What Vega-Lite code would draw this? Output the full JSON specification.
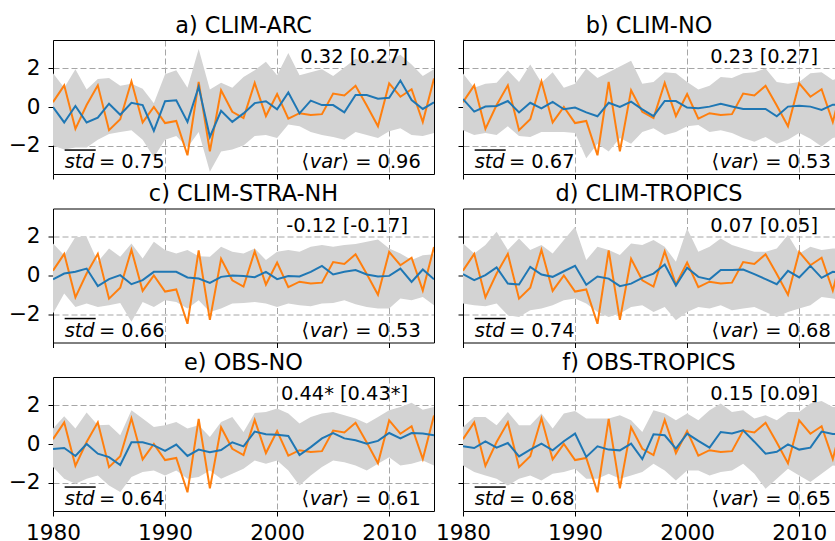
{
"$schema": "https://vega.github.io/schema/vega-lite/v6.json",
"background": "white",
"padding": {"left": 8, "top": 14, "right": 0, "bottom": -3},
"config": {
 "font": "DejaVu Sans",
 "view": {"stroke": null},
 "title": {"fontSize": 22.4, "fontWeight": "normal", "font": "DejaVu Sans", "color": "black", "baseline": "alphabetic", "offset": 3, "anchor": "middle"},
 "axis": {"domainColor": "black", "domainWidth": 1, "tickColor": "black", "tickWidth": 1, "tickSize": 5, "labelColor": "black", "labelFont": "DejaVu Sans", "labelFontSize": 21.6, "gridColor": "#a6a6a6", "gridDash": [6, 3], "gridWidth": 1, "labelFlush": false, "zindex": 1, "format": "d"}
},
"datasets": {
 "obs": [
  {"year":1980,"v":0.25},{"year":1981,"v":1.12},{"year":1982,"v":-1.13},{"year":1983,"v":0.1},{"year":1984,"v":1.12},
  {"year":1985,"v":-1.2},{"year":1986,"v":-0.63},{"year":1987,"v":1.33},{"year":1988,"v":-0.8},{"year":1989,"v":0.0},
  {"year":1990,"v":-0.83},{"year":1991,"v":-0.72},{"year":1992,"v":-2.5},{"year":1993,"v":1.3},{"year":1994,"v":-2.3},
  {"year":1995,"v":0.87},{"year":1996,"v":-0.25},{"year":1997,"v":-0.57},{"year":1998,"v":1.25},{"year":1999,"v":-0.47},
  {"year":2000,"v":0.67},{"year":2001,"v":-0.6},{"year":2002,"v":-0.32},{"year":2003,"v":-0.42},{"year":2004,"v":-0.37},
  {"year":2005,"v":0.7},{"year":2006,"v":0.6},{"year":2007,"v":1.1},{"year":2008,"v":0.08},{"year":2009,"v":-1.0},
  {"year":2010,"v":1.22},{"year":2011,"v":0.53},{"year":2012,"v":0.92},{"year":2013,"v":-0.78},{"year":2014,"v":1.47}
 ],
 "ann": [
  {"p":"a","r":"0.32 [0.27]","s":"= 0.75","v":"⟩ = 0.96"},
  {"p":"b","r":"0.23 [0.27]","s":"= 0.67","v":"⟩ = 0.53"},
  {"p":"c","r":"-0.12 [-0.17]","s":"= 0.66","v":"⟩ = 0.53"},
  {"p":"d","r":"0.07 [0.05]","s":"= 0.74","v":"⟩ = 0.68"},
  {"p":"e","r":"0.44* [0.43*]","s":"= 0.64","v":"⟩ = 0.61"},
  {"p":"f","r":"0.15 [0.09]","s":"= 0.68","v":"⟩ = 0.65"}
 ],
 "ens": [
  {"p":"a","year":1980,"m":0.0,"lo":-2.0,"hi":1.75},{"p":"a","year":1981,"m":-0.8,"lo":-2.2,"hi":1.0},{"p":"a","year":1982,"m":0.05,"lo":-2.1,"hi":1.95},{"p":"a","year":1983,"m":-0.8,"lo":-2.1,"hi":0.9},{"p":"a","year":1984,"m":-0.55,"lo":-1.7,"hi":1.45},
  {"p":"a","year":1985,"m":0.17,"lo":-1.4,"hi":1.5},{"p":"a","year":1986,"m":-0.4,"lo":-1.3,"hi":1.1},{"p":"a","year":1987,"m":0.22,"lo":-1.2,"hi":1.2},{"p":"a","year":1988,"m":0.1,"lo":-1.7,"hi":0.95},{"p":"a","year":1989,"m":-1.23,"lo":-2.6,"hi":0.2},
  {"p":"a","year":1990,"m":0.3,"lo":-1.7,"hi":1.7},{"p":"a","year":1991,"m":0.35,"lo":-1.5,"hi":1.9},{"p":"a","year":1992,"m":-0.77,"lo":-2.1,"hi":1.0},{"p":"a","year":1993,"m":1.05,"lo":-1.3,"hi":3.0},{"p":"a","year":1994,"m":-1.55,"lo":-3.35,"hi":0.9},
  {"p":"a","year":1995,"m":-0.2,"lo":-2.3,"hi":1.25},{"p":"a","year":1996,"m":-0.77,"lo":-2.2,"hi":1.0},{"p":"a","year":1997,"m":-0.33,"lo":-2.0,"hi":1.55},{"p":"a","year":1998,"m":0.2,"lo":-1.5,"hi":1.9},{"p":"a","year":1999,"m":0.3,"lo":-1.45,"hi":2.35},
  {"p":"a","year":2000,"m":-0.12,"lo":-1.6,"hi":1.65},{"p":"a","year":2001,"m":0.75,"lo":-0.9,"hi":2.8},{"p":"a","year":2002,"m":-0.33,"lo":-1.0,"hi":1.65},{"p":"a","year":2003,"m":0.33,"lo":-1.3,"hi":1.8},{"p":"a","year":2004,"m":0.1,"lo":-1.45,"hi":1.95},
  {"p":"a","year":2005,"m":0.1,"lo":-1.55,"hi":1.6},{"p":"a","year":2006,"m":-0.28,"lo":-1.7,"hi":2.05},{"p":"a","year":2007,"m":0.62,"lo":-1.3,"hi":2.5},{"p":"a","year":2008,"m":0.62,"lo":-1.45,"hi":2.3},{"p":"a","year":2009,"m":0.43,"lo":-1.6,"hi":2.5},
  {"p":"a","year":2010,"m":0.48,"lo":-1.25,"hi":2.4},{"p":"a","year":2011,"m":1.37,"lo":-1.1,"hi":2.7},{"p":"a","year":2012,"m":0.36,"lo":-1.45,"hi":2.2},{"p":"a","year":2013,"m":-0.1,"lo":-1.5,"hi":1.6},{"p":"a","year":2014,"m":0.24,"lo":-1.35,"hi":1.95},

  {"p":"b","year":1980,"m":0.41,"lo":-1.2,"hi":1.74},{"p":"b","year":1981,"m":-0.24,"lo":-1.45,"hi":1.0},{"p":"b","year":1982,"m":0.02,"lo":-1.35,"hi":1.2},{"p":"b","year":1983,"m":0.05,"lo":-1.45,"hi":1.25},{"p":"b","year":1984,"m":0.31,"lo":-1.0,"hi":1.9},
  {"p":"b","year":1985,"m":-0.28,"lo":-1.5,"hi":1.3},{"p":"b","year":1986,"m":0.22,"lo":-1.55,"hi":2.2},{"p":"b","year":1987,"m":-0.07,"lo":-1.3,"hi":1.25},{"p":"b","year":1988,"m":0.26,"lo":-1.3,"hi":1.8},{"p":"b","year":1989,"m":-0.12,"lo":-1.3,"hi":1.0},
  {"p":"b","year":1990,"m":-0.03,"lo":-1.35,"hi":1.2},{"p":"b","year":1991,"m":-0.28,"lo":-2.65,"hi":2.0},{"p":"b","year":1992,"m":-0.48,"lo":-1.9,"hi":1.5},{"p":"b","year":1993,"m":0.22,"lo":-2.3,"hi":1.8},{"p":"b","year":1994,"m":0.0,"lo":-1.6,"hi":2.1},
  {"p":"b","year":1995,"m":0.28,"lo":-1.9,"hi":2.4},{"p":"b","year":1996,"m":-0.12,"lo":-1.3,"hi":1.2},{"p":"b","year":1997,"m":-0.47,"lo":-1.1,"hi":1.3},{"p":"b","year":1998,"m":0.31,"lo":-1.45,"hi":1.8},{"p":"b","year":1999,"m":0.31,"lo":-1.3,"hi":1.75},
  {"p":"b","year":2000,"m":-0.03,"lo":-1.0,"hi":1.3},{"p":"b","year":2001,"m":-0.07,"lo":-0.93,"hi":0.9},{"p":"b","year":2002,"m":0.02,"lo":-1.3,"hi":1.1},{"p":"b","year":2003,"m":0.17,"lo":-1.2,"hi":1.55},{"p":"b","year":2004,"m":0.03,"lo":-1.35,"hi":1.5},
  {"p":"b","year":2005,"m":-0.1,"lo":-1.6,"hi":1.75},{"p":"b","year":2006,"m":-0.1,"lo":-1.8,"hi":1.8},{"p":"b","year":2007,"m":-0.1,"lo":-1.55,"hi":2.0},{"p":"b","year":2008,"m":-0.48,"lo":-1.9,"hi":1.3},{"p":"b","year":2009,"m":0.02,"lo":-1.7,"hi":1.2},
  {"p":"b","year":2010,"m":0.07,"lo":-1.35,"hi":1.3},{"p":"b","year":2011,"m":0.02,"lo":-1.65,"hi":1.75},{"p":"b","year":2012,"m":-0.15,"lo":-2.05,"hi":1.8},{"p":"b","year":2013,"m":0.12,"lo":-1.6,"hi":1.4},{"p":"b","year":2014,"m":0.1,"lo":-1.5,"hi":1.6},

  {"p":"c","year":1980,"m":-0.2,"lo":-1.97,"hi":1.66},{"p":"c","year":1981,"m":0.1,"lo":-0.93,"hi":1.05},{"p":"c","year":1982,"m":0.19,"lo":-1.63,"hi":2.0},{"p":"c","year":1983,"m":0.36,"lo":-1.45,"hi":2.0},{"p":"c","year":1984,"m":-0.55,"lo":-1.63,"hi":0.71},
  {"p":"c","year":1985,"m":-0.19,"lo":-1.54,"hi":1.4},{"p":"c","year":1986,"m":0.02,"lo":-1.42,"hi":0.97},{"p":"c","year":1987,"m":-0.45,"lo":-2.4,"hi":1.66},{"p":"c","year":1988,"m":-0.24,"lo":-1.37,"hi":0.88},{"p":"c","year":1989,"m":0.19,"lo":-1.63,"hi":1.75},
  {"p":"c","year":1990,"m":0.19,"lo":-1.28,"hi":1.32},{"p":"c","year":1991,"m":0.19,"lo":-1.37,"hi":1.14},{"p":"c","year":1992,"m":-0.1,"lo":-1.71,"hi":1.32},{"p":"c","year":1993,"m":-0.16,"lo":-1.28,"hi":1.0},{"p":"c","year":1994,"m":-0.38,"lo":-1.89,"hi":0.97},
  {"p":"c","year":1995,"m":-0.07,"lo":-1.71,"hi":1.49},{"p":"c","year":1996,"m":0.0,"lo":-1.45,"hi":1.23},{"p":"c","year":1997,"m":-0.03,"lo":-1.42,"hi":1.14},{"p":"c","year":1998,"m":-0.09,"lo":-1.37,"hi":1.4},{"p":"c","year":1999,"m":0.19,"lo":-1.45,"hi":0.8},
  {"p":"c","year":2000,"m":-0.19,"lo":-1.63,"hi":1.23},{"p":"c","year":2001,"m":-0.03,"lo":-1.45,"hi":1.32},{"p":"c","year":2002,"m":-0.05,"lo":-1.54,"hi":1.23},{"p":"c","year":2003,"m":0.19,"lo":-1.59,"hi":1.49},{"p":"c","year":2004,"m":0.5,"lo":-1.45,"hi":1.58},
  {"p":"c","year":2005,"m":0.05,"lo":-1.42,"hi":1.49},{"p":"c","year":2006,"m":0.19,"lo":-1.28,"hi":1.58},{"p":"c","year":2007,"m":0.28,"lo":-1.49,"hi":1.63},{"p":"c","year":2008,"m":0.05,"lo":-1.63,"hi":1.75},{"p":"c","year":2009,"m":-0.05,"lo":-1.71,"hi":1.87},
  {"p":"c","year":2010,"m":-0.02,"lo":-1.71,"hi":1.4},{"p":"c","year":2011,"m":0.36,"lo":-1.19,"hi":1.14},{"p":"c","year":2012,"m":-0.33,"lo":-1.28,"hi":0.8},{"p":"c","year":2013,"m":0.31,"lo":-1.11,"hi":1.05},{"p":"c","year":2014,"m":-0.2,"lo":-1.54,"hi":1.1},

  {"p":"d","year":1980,"m":0.07,"lo":-1.45,"hi":1.66},{"p":"d","year":1981,"m":-0.24,"lo":-1.54,"hi":1.14},{"p":"d","year":1982,"m":0.02,"lo":-1.59,"hi":1.58},{"p":"d","year":1983,"m":0.42,"lo":-1.45,"hi":2.27},{"p":"d","year":1984,"m":-0.42,"lo":-2.06,"hi":1.32},
  {"p":"d","year":1985,"m":-0.47,"lo":-2.15,"hi":1.92},{"p":"d","year":1986,"m":0.45,"lo":-1.8,"hi":1.32},{"p":"d","year":1987,"m":0.05,"lo":-1.71,"hi":1.58},{"p":"d","year":1988,"m":-0.07,"lo":-1.54,"hi":1.14},{"p":"d","year":1989,"m":0.22,"lo":-1.28,"hi":1.84},
  {"p":"d","year":1990,"m":0.5,"lo":-1.19,"hi":2.53},{"p":"d","year":1991,"m":-0.48,"lo":-1.45,"hi":0.8},{"p":"d","year":1992,"m":-0.05,"lo":-1.89,"hi":1.49},{"p":"d","year":1993,"m":-0.16,"lo":-2.15,"hi":1.32},{"p":"d","year":1994,"m":-0.55,"lo":-1.97,"hi":1.06},
  {"p":"d","year":1995,"m":-0.42,"lo":-1.63,"hi":1.66},{"p":"d","year":1996,"m":-0.12,"lo":-1.54,"hi":1.58},{"p":"d","year":1997,"m":0.1,"lo":-1.89,"hi":1.84},{"p":"d","year":1998,"m":0.57,"lo":-1.63,"hi":1.49},{"p":"d","year":1999,"m":-0.52,"lo":-2.32,"hi":0.71},
  {"p":"d","year":2000,"m":0.4,"lo":-1.89,"hi":2.44},{"p":"d","year":2001,"m":-0.07,"lo":-1.63,"hi":1.23},{"p":"d","year":2002,"m":-0.2,"lo":-1.71,"hi":1.49},{"p":"d","year":2003,"m":0.28,"lo":-1.54,"hi":1.92},{"p":"d","year":2004,"m":0.28,"lo":-1.8,"hi":1.58},
  {"p":"d","year":2005,"m":0.31,"lo":-1.71,"hi":1.4},{"p":"d","year":2006,"m":0.07,"lo":-1.63,"hi":1.23},{"p":"d","year":2007,"m":-0.19,"lo":-1.89,"hi":1.23},{"p":"d","year":2008,"m":-0.45,"lo":-2.15,"hi":1.4},{"p":"d","year":2009,"m":0.24,"lo":-1.89,"hi":2.1},
  {"p":"d","year":2010,"m":-0.1,"lo":-1.71,"hi":1.14},{"p":"d","year":2011,"m":0.5,"lo":-1.54,"hi":1.49},{"p":"d","year":2012,"m":-0.12,"lo":-1.11,"hi":1.32},{"p":"d","year":2013,"m":0.19,"lo":-1.19,"hi":1.4},{"p":"d","year":2014,"m":0.15,"lo":-1.3,"hi":1.4},

  {"p":"e","year":1980,"m":-0.26,"lo":-1.19,"hi":0.8},{"p":"e","year":1981,"m":-0.21,"lo":-1.8,"hi":1.44},{"p":"e","year":1982,"m":-0.62,"lo":-2.06,"hi":0.8},{"p":"e","year":1983,"m":0.0,"lo":-1.8,"hi":1.63},{"p":"e","year":1984,"m":-0.5,"lo":-1.63,"hi":0.97},
  {"p":"e","year":1985,"m":-0.68,"lo":-2.15,"hi":1.0},{"p":"e","year":1986,"m":-1.09,"lo":-2.49,"hi":0.45},{"p":"e","year":1987,"m":0.09,"lo":-1.71,"hi":1.75},{"p":"e","year":1988,"m":0.09,"lo":-1.45,"hi":1.32},{"p":"e","year":1989,"m":-0.07,"lo":-1.37,"hi":0.88},
  {"p":"e","year":1990,"m":-0.36,"lo":-1.63,"hi":0.97},{"p":"e","year":1991,"m":-0.03,"lo":-1.37,"hi":1.14},{"p":"e","year":1992,"m":-0.62,"lo":-1.8,"hi":0.8},{"p":"e","year":1993,"m":-0.29,"lo":-1.71,"hi":0.97},{"p":"e","year":1994,"m":-0.43,"lo":-1.37,"hi":0.36},
  {"p":"e","year":1995,"m":-0.31,"lo":-1.8,"hi":1.14},{"p":"e","year":1996,"m":0.09,"lo":-1.54,"hi":1.4},{"p":"e","year":1997,"m":-0.12,"lo":-1.28,"hi":0.62},{"p":"e","year":1998,"m":0.64,"lo":-0.85,"hi":1.61},{"p":"e","year":1999,"m":0.5,"lo":-1.02,"hi":1.66},
  {"p":"e","year":2000,"m":0.48,"lo":-0.85,"hi":1.84},{"p":"e","year":2001,"m":0.42,"lo":-1.37,"hi":1.58},{"p":"e","year":2002,"m":-0.57,"lo":-2.15,"hi":1.06},{"p":"e","year":2003,"m":-0.16,"lo":-1.63,"hi":1.4},{"p":"e","year":2004,"m":0.29,"lo":-1.19,"hi":1.58},
  {"p":"e","year":2005,"m":0.57,"lo":-0.85,"hi":1.66},{"p":"e","year":2006,"m":0.29,"lo":-0.94,"hi":1.49},{"p":"e","year":2007,"m":0.19,"lo":-1.11,"hi":1.32},{"p":"e","year":2008,"m":0.02,"lo":-1.37,"hi":1.06},{"p":"e","year":2009,"m":0.16,"lo":-1.02,"hi":1.4},
  {"p":"e","year":2010,"m":0.57,"lo":-0.68,"hi":1.75},{"p":"e","year":2011,"m":0.29,"lo":-1.11,"hi":1.92},{"p":"e","year":2012,"m":0.57,"lo":-1.02,"hi":2.13},{"p":"e","year":2013,"m":0.54,"lo":-0.85,"hi":1.78},{"p":"e","year":2014,"m":0.45,"lo":-1.11,"hi":1.92},

  {"p":"f","year":1980,"m":-0.12,"lo":-1.11,"hi":0.88},{"p":"f","year":1981,"m":-0.21,"lo":-1.45,"hi":1.4},{"p":"f","year":1982,"m":0.14,"lo":-1.63,"hi":1.4},{"p":"f","year":1983,"m":-0.19,"lo":-1.8,"hi":0.97},{"p":"f","year":1984,"m":0.05,"lo":-2.15,"hi":1.66},
  {"p":"f","year":1985,"m":-0.64,"lo":-1.8,"hi":0.97},{"p":"f","year":1986,"m":-0.29,"lo":-1.63,"hi":0.97},{"p":"f","year":1987,"m":0.02,"lo":-1.89,"hi":1.58},{"p":"f","year":1988,"m":-0.33,"lo":-1.54,"hi":0.8},{"p":"f","year":1989,"m":0.14,"lo":-1.45,"hi":1.58},
  {"p":"f","year":1990,"m":0.54,"lo":-1.28,"hi":1.71},{"p":"f","year":1991,"m":-0.67,"lo":-1.8,"hi":1.32},{"p":"f","year":1992,"m":-0.12,"lo":-1.8,"hi":1.32},{"p":"f","year":1993,"m":-0.29,"lo":-1.54,"hi":1.32},{"p":"f","year":1994,"m":-0.33,"lo":-1.8,"hi":1.49},
  {"p":"f","year":1995,"m":0.02,"lo":-1.63,"hi":1.23},{"p":"f","year":1996,"m":-0.78,"lo":-1.45,"hi":0.62},{"p":"f","year":1997,"m":0.5,"lo":-1.02,"hi":1.75},{"p":"f","year":1998,"m":0.45,"lo":-1.37,"hi":1.58},{"p":"f","year":1999,"m":-0.24,"lo":-1.89,"hi":1.23},
  {"p":"f","year":2000,"m":0.54,"lo":-1.37,"hi":1.58},{"p":"f","year":2001,"m":0.16,"lo":-1.37,"hi":1.23},{"p":"f","year":2002,"m":-0.19,"lo":-1.63,"hi":1.75},{"p":"f","year":2003,"m":0.62,"lo":-1.45,"hi":2.1},{"p":"f","year":2004,"m":0.54,"lo":-1.37,"hi":1.66},
  {"p":"f","year":2005,"m":0.71,"lo":-1.02,"hi":1.75},{"p":"f","year":2006,"m":0.12,"lo":-1.54,"hi":1.32},{"p":"f","year":2007,"m":-0.5,"lo":-2.32,"hi":1.49},{"p":"f","year":2008,"m":-0.4,"lo":-1.8,"hi":1.23},{"p":"f","year":2009,"m":-0.02,"lo":-1.28,"hi":1.66},
  {"p":"f","year":2010,"m":-0.29,"lo":-1.63,"hi":1.66},{"p":"f","year":2011,"m":-0.19,"lo":-1.97,"hi":2.1},{"p":"f","year":2012,"m":0.64,"lo":-1.54,"hi":2.23},{"p":"f","year":2013,"m":0.52,"lo":-1.11,"hi":1.92},{"p":"f","year":2014,"m":0.5,"lo":-1.2,"hi":1.9}
 ]
},
"columns": 2,
"bounds": "flush",
"spacing": {"row": 34.5, "column": 29},
"concat": [
 {"width": 381, "height": 134, "title": "a) CLIM-ARC",
  "layer": [
   {"data": {"name": "ens"}, "transform": [{"filter": "datum.p === 'a'"}], "mark": {"type": "area", "color": "#d3d3d3", "clip": true},
    "encoding": {"x": {"field": "year", "type": "quantitative", "scale": {"domain": [1980, 2014], "nice": false, "zero": false}, "axis": {"orient": "bottom", "values": [1980, 1990, 2000, 2010], "labels": false, "title": null}},
     "y": {"field": "lo", "type": "quantitative", "scale": {"domain": [-3.47, 3.47], "nice": false, "zero": false}, "axis": {"orient": "left", "values": [-2, 0, 2], "labelPadding": 8, "title": null}},
     "y2": {"field": "hi"}}},
   {"data": {"name": "obs"}, "mark": {"type": "line", "color": "#ff7f0e", "strokeWidth": 2, "clip": true},
    "encoding": {"x": {"field": "year", "type": "quantitative", "axis": {"orient": "top", "labels": false, "ticks": false, "grid": false, "title": null}}, "y": {"field": "v", "type": "quantitative", "axis": {"orient": "right", "labels": false, "ticks": false, "grid": false, "title": null}}}},
   {"data": {"name": "ens"}, "transform": [{"filter": "datum.p === 'a'"}], "mark": {"type": "line", "color": "#1f77b4", "strokeWidth": 2, "clip": true},
    "encoding": {"x": {"field": "year", "type": "quantitative", "axis": null}, "y": {"field": "m", "type": "quantitative", "axis": null}}},
   {"data": {"name": "ann"}, "transform": [{"filter": "datum.p === 'a'"}], "mark": {"type": "text", "align": "right", "baseline": "alphabetic", "fontSize": 19.4, "color": "black"},
    "encoding": {"x": {"datum": 2011.68, "axis": null}, "y": {"datum": 2.26, "axis": null}, "text": {"field": "r"}}},
   {"data": {"name": "ann"}, "transform": [{"filter": "datum.p === 'a'"}], "mark": {"type": "text", "align": "left", "baseline": "alphabetic", "fontSize": 19.4, "fontStyle": "italic", "color": "black"},
    "encoding": {"x": {"datum": 1981.04, "axis": null}, "y": {"datum": -3.18, "axis": null}, "text": {"value": "std"}}},
   {"data": {"name": "ann"}, "transform": [{"filter": "datum.p === 'a'"}], "mark": {"type": "rule", "color": "black", "strokeWidth": 1.5},
    "encoding": {"x": {"datum": 1981.04, "axis": null}, "x2": {"datum": 1983.81}, "y": {"datum": -2.23, "axis": null}}},
   {"data": {"name": "ann"}, "transform": [{"filter": "datum.p === 'a'"}], "mark": {"type": "text", "align": "left", "baseline": "alphabetic", "fontSize": 19.4, "color": "black"},
    "encoding": {"x": {"datum": 1984.1, "axis": null}, "y": {"datum": -3.18, "axis": null}, "text": {"field": "s"}}},
   {"data": {"name": "ann"}, "transform": [{"filter": "datum.p === 'a'"}], "mark": {"type": "text", "align": "left", "baseline": "alphabetic", "fontSize": 19.4, "color": "black"},
    "encoding": {"x": {"datum": 2002.17, "axis": null}, "y": {"datum": -3.18, "axis": null}, "text": {"value": "⟨"}}},
   {"data": {"name": "ann"}, "transform": [{"filter": "datum.p === 'a'"}], "mark": {"type": "text", "align": "left", "baseline": "alphabetic", "fontSize": 19.4, "fontStyle": "italic", "color": "black"},
    "encoding": {"x": {"datum": 2002.91, "axis": null}, "y": {"datum": -3.18, "axis": null}, "text": {"value": "var"}}},
   {"data": {"name": "ann"}, "transform": [{"filter": "datum.p === 'a'"}], "mark": {"type": "text", "align": "left", "baseline": "alphabetic", "fontSize": 19.4, "color": "black"},
    "encoding": {"x": {"datum": 2005.74, "axis": null}, "y": {"datum": -3.18, "axis": null}, "text": {"field": "v"}}}
  ],
  "resolve": {"axis": {"x": "independent", "y": "independent"}}},
 {"width": 372, "height": 134, "title": "b) CLIM-NO",
  "layer": [
   {"data": {"name": "ens"}, "transform": [{"filter": "datum.p === 'b'"}], "mark": {"type": "area", "color": "#d3d3d3", "clip": true},
    "encoding": {"x": {"field": "year", "type": "quantitative", "scale": {"domain": [1980, 2013.196], "nice": false, "zero": false}, "axis": {"orient": "bottom", "values": [1980, 1990, 2000, 2010], "labels": false, "title": null}},
     "y": {"field": "lo", "type": "quantitative", "scale": {"domain": [-3.47, 3.47], "nice": false, "zero": false}, "axis": {"orient": "left", "values": [-2, 0, 2], "labels": false, "title": null}},
     "y2": {"field": "hi"}}},
   {"data": {"name": "obs"}, "mark": {"type": "line", "color": "#ff7f0e", "strokeWidth": 2, "clip": true},
    "encoding": {"x": {"field": "year", "type": "quantitative", "axis": {"orient": "top", "labels": false, "ticks": false, "grid": false, "title": null}}, "y": {"field": "v", "type": "quantitative", "axis": null}}},
   {"data": {"name": "ens"}, "transform": [{"filter": "datum.p === 'b'"}], "mark": {"type": "line", "color": "#1f77b4", "strokeWidth": 2, "clip": true},
    "encoding": {"x": {"field": "year", "type": "quantitative", "axis": null}, "y": {"field": "m", "type": "quantitative", "axis": null}}},
   {"data": {"name": "ann"}, "transform": [{"filter": "datum.p === 'b'"}], "mark": {"type": "text", "align": "right", "baseline": "alphabetic", "fontSize": 19.4, "color": "black"},
    "encoding": {"x": {"datum": 2011.68, "axis": null}, "y": {"datum": 2.26, "axis": null}, "text": {"field": "r"}}},
   {"data": {"name": "ann"}, "transform": [{"filter": "datum.p === 'b'"}], "mark": {"type": "text", "align": "left", "baseline": "alphabetic", "fontSize": 19.4, "fontStyle": "italic", "color": "black"},
    "encoding": {"x": {"datum": 1981.04, "axis": null}, "y": {"datum": -3.18, "axis": null}, "text": {"value": "std"}}},
   {"data": {"name": "ann"}, "transform": [{"filter": "datum.p === 'b'"}], "mark": {"type": "rule", "color": "black", "strokeWidth": 1.5},
    "encoding": {"x": {"datum": 1981.04, "axis": null}, "x2": {"datum": 1983.81}, "y": {"datum": -2.23, "axis": null}}},
   {"data": {"name": "ann"}, "transform": [{"filter": "datum.p === 'b'"}], "mark": {"type": "text", "align": "left", "baseline": "alphabetic", "fontSize": 19.4, "color": "black"},
    "encoding": {"x": {"datum": 1984.1, "axis": null}, "y": {"datum": -3.18, "axis": null}, "text": {"field": "s"}}},
   {"data": {"name": "ann"}, "transform": [{"filter": "datum.p === 'b'"}], "mark": {"type": "text", "align": "left", "baseline": "alphabetic", "fontSize": 19.4, "color": "black"},
    "encoding": {"x": {"datum": 2002.17, "axis": null}, "y": {"datum": -3.18, "axis": null}, "text": {"value": "⟨"}}},
   {"data": {"name": "ann"}, "transform": [{"filter": "datum.p === 'b'"}], "mark": {"type": "text", "align": "left", "baseline": "alphabetic", "fontSize": 19.4, "fontStyle": "italic", "color": "black"},
    "encoding": {"x": {"datum": 2002.91, "axis": null}, "y": {"datum": -3.18, "axis": null}, "text": {"value": "var"}}},
   {"data": {"name": "ann"}, "transform": [{"filter": "datum.p === 'b'"}], "mark": {"type": "text", "align": "left", "baseline": "alphabetic", "fontSize": 19.4, "color": "black"},
    "encoding": {"x": {"datum": 2005.74, "axis": null}, "y": {"datum": -3.18, "axis": null}, "text": {"field": "v"}}}
  ],
  "resolve": {"axis": {"x": "independent", "y": "independent"}}},
 {"width": 381, "height": 134, "title": "c) CLIM-STRA-NH",
  "layer": [
   {"data": {"name": "ens"}, "transform": [{"filter": "datum.p === 'c'"}], "mark": {"type": "area", "color": "#d3d3d3", "clip": true},
    "encoding": {"x": {"field": "year", "type": "quantitative", "scale": {"domain": [1980, 2014], "nice": false, "zero": false}, "axis": {"orient": "bottom", "values": [1980, 1990, 2000, 2010], "labels": false, "title": null}},
     "y": {"field": "lo", "type": "quantitative", "scale": {"domain": [-3.47, 3.47], "nice": false, "zero": false}, "axis": {"orient": "left", "values": [-2, 0, 2], "labelPadding": 8, "title": null}},
     "y2": {"field": "hi"}}},
   {"data": {"name": "obs"}, "mark": {"type": "line", "color": "#ff7f0e", "strokeWidth": 2, "clip": true},
    "encoding": {"x": {"field": "year", "type": "quantitative", "axis": {"orient": "top", "labels": false, "ticks": false, "grid": false, "title": null}}, "y": {"field": "v", "type": "quantitative", "axis": {"orient": "right", "labels": false, "ticks": false, "grid": false, "title": null}}}},
   {"data": {"name": "ens"}, "transform": [{"filter": "datum.p === 'c'"}], "mark": {"type": "line", "color": "#1f77b4", "strokeWidth": 2, "clip": true},
    "encoding": {"x": {"field": "year", "type": "quantitative", "axis": null}, "y": {"field": "m", "type": "quantitative", "axis": null}}},
   {"data": {"name": "ann"}, "transform": [{"filter": "datum.p === 'c'"}], "mark": {"type": "text", "align": "right", "baseline": "alphabetic", "fontSize": 19.4, "color": "black"},
    "encoding": {"x": {"datum": 2011.68, "axis": null}, "y": {"datum": 2.26, "axis": null}, "text": {"field": "r"}}},
   {"data": {"name": "ann"}, "transform": [{"filter": "datum.p === 'c'"}], "mark": {"type": "text", "align": "left", "baseline": "alphabetic", "fontSize": 19.4, "fontStyle": "italic", "color": "black"},
    "encoding": {"x": {"datum": 1981.04, "axis": null}, "y": {"datum": -3.18, "axis": null}, "text": {"value": "std"}}},
   {"data": {"name": "ann"}, "transform": [{"filter": "datum.p === 'c'"}], "mark": {"type": "rule", "color": "black", "strokeWidth": 1.5},
    "encoding": {"x": {"datum": 1981.04, "axis": null}, "x2": {"datum": 1983.81}, "y": {"datum": -2.23, "axis": null}}},
   {"data": {"name": "ann"}, "transform": [{"filter": "datum.p === 'c'"}], "mark": {"type": "text", "align": "left", "baseline": "alphabetic", "fontSize": 19.4, "color": "black"},
    "encoding": {"x": {"datum": 1984.1, "axis": null}, "y": {"datum": -3.18, "axis": null}, "text": {"field": "s"}}},
   {"data": {"name": "ann"}, "transform": [{"filter": "datum.p === 'c'"}], "mark": {"type": "text", "align": "left", "baseline": "alphabetic", "fontSize": 19.4, "color": "black"},
    "encoding": {"x": {"datum": 2002.17, "axis": null}, "y": {"datum": -3.18, "axis": null}, "text": {"value": "⟨"}}},
   {"data": {"name": "ann"}, "transform": [{"filter": "datum.p === 'c'"}], "mark": {"type": "text", "align": "left", "baseline": "alphabetic", "fontSize": 19.4, "fontStyle": "italic", "color": "black"},
    "encoding": {"x": {"datum": 2002.91, "axis": null}, "y": {"datum": -3.18, "axis": null}, "text": {"value": "var"}}},
   {"data": {"name": "ann"}, "transform": [{"filter": "datum.p === 'c'"}], "mark": {"type": "text", "align": "left", "baseline": "alphabetic", "fontSize": 19.4, "color": "black"},
    "encoding": {"x": {"datum": 2005.74, "axis": null}, "y": {"datum": -3.18, "axis": null}, "text": {"field": "v"}}}
  ],
  "resolve": {"axis": {"x": "independent", "y": "independent"}}},
 {"width": 372, "height": 134, "title": "d) CLIM-TROPICS",
  "layer": [
   {"data": {"name": "ens"}, "transform": [{"filter": "datum.p === 'd'"}], "mark": {"type": "area", "color": "#d3d3d3", "clip": true},
    "encoding": {"x": {"field": "year", "type": "quantitative", "scale": {"domain": [1980, 2013.196], "nice": false, "zero": false}, "axis": {"orient": "bottom", "values": [1980, 1990, 2000, 2010], "labels": false, "title": null}},
     "y": {"field": "lo", "type": "quantitative", "scale": {"domain": [-3.47, 3.47], "nice": false, "zero": false}, "axis": {"orient": "left", "values": [-2, 0, 2], "labels": false, "title": null}},
     "y2": {"field": "hi"}}},
   {"data": {"name": "obs"}, "mark": {"type": "line", "color": "#ff7f0e", "strokeWidth": 2, "clip": true},
    "encoding": {"x": {"field": "year", "type": "quantitative", "axis": {"orient": "top", "labels": false, "ticks": false, "grid": false, "title": null}}, "y": {"field": "v", "type": "quantitative", "axis": null}}},
   {"data": {"name": "ens"}, "transform": [{"filter": "datum.p === 'd'"}], "mark": {"type": "line", "color": "#1f77b4", "strokeWidth": 2, "clip": true},
    "encoding": {"x": {"field": "year", "type": "quantitative", "axis": null}, "y": {"field": "m", "type": "quantitative", "axis": null}}},
   {"data": {"name": "ann"}, "transform": [{"filter": "datum.p === 'd'"}], "mark": {"type": "text", "align": "right", "baseline": "alphabetic", "fontSize": 19.4, "color": "black"},
    "encoding": {"x": {"datum": 2011.68, "axis": null}, "y": {"datum": 2.26, "axis": null}, "text": {"field": "r"}}},
   {"data": {"name": "ann"}, "transform": [{"filter": "datum.p === 'd'"}], "mark": {"type": "text", "align": "left", "baseline": "alphabetic", "fontSize": 19.4, "fontStyle": "italic", "color": "black"},
    "encoding": {"x": {"datum": 1981.04, "axis": null}, "y": {"datum": -3.18, "axis": null}, "text": {"value": "std"}}},
   {"data": {"name": "ann"}, "transform": [{"filter": "datum.p === 'd'"}], "mark": {"type": "rule", "color": "black", "strokeWidth": 1.5},
    "encoding": {"x": {"datum": 1981.04, "axis": null}, "x2": {"datum": 1983.81}, "y": {"datum": -2.23, "axis": null}}},
   {"data": {"name": "ann"}, "transform": [{"filter": "datum.p === 'd'"}], "mark": {"type": "text", "align": "left", "baseline": "alphabetic", "fontSize": 19.4, "color": "black"},
    "encoding": {"x": {"datum": 1984.1, "axis": null}, "y": {"datum": -3.18, "axis": null}, "text": {"field": "s"}}},
   {"data": {"name": "ann"}, "transform": [{"filter": "datum.p === 'd'"}], "mark": {"type": "text", "align": "left", "baseline": "alphabetic", "fontSize": 19.4, "color": "black"},
    "encoding": {"x": {"datum": 2002.17, "axis": null}, "y": {"datum": -3.18, "axis": null}, "text": {"value": "⟨"}}},
   {"data": {"name": "ann"}, "transform": [{"filter": "datum.p === 'd'"}], "mark": {"type": "text", "align": "left", "baseline": "alphabetic", "fontSize": 19.4, "fontStyle": "italic", "color": "black"},
    "encoding": {"x": {"datum": 2002.91, "axis": null}, "y": {"datum": -3.18, "axis": null}, "text": {"value": "var"}}},
   {"data": {"name": "ann"}, "transform": [{"filter": "datum.p === 'd'"}], "mark": {"type": "text", "align": "left", "baseline": "alphabetic", "fontSize": 19.4, "color": "black"},
    "encoding": {"x": {"datum": 2005.74, "axis": null}, "y": {"datum": -3.18, "axis": null}, "text": {"field": "v"}}}
  ],
  "resolve": {"axis": {"x": "independent", "y": "independent"}}},
 {"width": 381, "height": 134, "title": "e) OBS-NO",
  "layer": [
   {"data": {"name": "ens"}, "transform": [{"filter": "datum.p === 'e'"}], "mark": {"type": "area", "color": "#d3d3d3", "clip": true},
    "encoding": {"x": {"field": "year", "type": "quantitative", "scale": {"domain": [1980, 2014], "nice": false, "zero": false}, "axis": {"orient": "bottom", "values": [1980, 1990, 2000, 2010], "labels": true, "labelPadding": 6, "title": null}},
     "y": {"field": "lo", "type": "quantitative", "scale": {"domain": [-3.47, 3.47], "nice": false, "zero": false}, "axis": {"orient": "left", "values": [-2, 0, 2], "labelPadding": 8, "title": null}},
     "y2": {"field": "hi"}}},
   {"data": {"name": "obs"}, "mark": {"type": "line", "color": "#ff7f0e", "strokeWidth": 2, "clip": true},
    "encoding": {"x": {"field": "year", "type": "quantitative", "axis": {"orient": "top", "labels": false, "ticks": false, "grid": false, "title": null}}, "y": {"field": "v", "type": "quantitative", "axis": {"orient": "right", "labels": false, "ticks": false, "grid": false, "title": null}}}},
   {"data": {"name": "ens"}, "transform": [{"filter": "datum.p === 'e'"}], "mark": {"type": "line", "color": "#1f77b4", "strokeWidth": 2, "clip": true},
    "encoding": {"x": {"field": "year", "type": "quantitative", "axis": null}, "y": {"field": "m", "type": "quantitative", "axis": null}}},
   {"data": {"name": "ann"}, "transform": [{"filter": "datum.p === 'e'"}], "mark": {"type": "text", "align": "right", "baseline": "alphabetic", "fontSize": 19.4, "color": "black"},
    "encoding": {"x": {"datum": 2011.68, "axis": null}, "y": {"datum": 2.26, "axis": null}, "text": {"field": "r"}}},
   {"data": {"name": "ann"}, "transform": [{"filter": "datum.p === 'e'"}], "mark": {"type": "text", "align": "left", "baseline": "alphabetic", "fontSize": 19.4, "fontStyle": "italic", "color": "black"},
    "encoding": {"x": {"datum": 1981.04, "axis": null}, "y": {"datum": -3.18, "axis": null}, "text": {"value": "std"}}},
   {"data": {"name": "ann"}, "transform": [{"filter": "datum.p === 'e'"}], "mark": {"type": "rule", "color": "black", "strokeWidth": 1.5},
    "encoding": {"x": {"datum": 1981.04, "axis": null}, "x2": {"datum": 1983.81}, "y": {"datum": -2.23, "axis": null}}},
   {"data": {"name": "ann"}, "transform": [{"filter": "datum.p === 'e'"}], "mark": {"type": "text", "align": "left", "baseline": "alphabetic", "fontSize": 19.4, "color": "black"},
    "encoding": {"x": {"datum": 1984.1, "axis": null}, "y": {"datum": -3.18, "axis": null}, "text": {"field": "s"}}},
   {"data": {"name": "ann"}, "transform": [{"filter": "datum.p === 'e'"}], "mark": {"type": "text", "align": "left", "baseline": "alphabetic", "fontSize": 19.4, "color": "black"},
    "encoding": {"x": {"datum": 2002.17, "axis": null}, "y": {"datum": -3.18, "axis": null}, "text": {"value": "⟨"}}},
   {"data": {"name": "ann"}, "transform": [{"filter": "datum.p === 'e'"}], "mark": {"type": "text", "align": "left", "baseline": "alphabetic", "fontSize": 19.4, "fontStyle": "italic", "color": "black"},
    "encoding": {"x": {"datum": 2002.91, "axis": null}, "y": {"datum": -3.18, "axis": null}, "text": {"value": "var"}}},
   {"data": {"name": "ann"}, "transform": [{"filter": "datum.p === 'e'"}], "mark": {"type": "text", "align": "left", "baseline": "alphabetic", "fontSize": 19.4, "color": "black"},
    "encoding": {"x": {"datum": 2005.74, "axis": null}, "y": {"datum": -3.18, "axis": null}, "text": {"field": "v"}}}
  ],
  "resolve": {"axis": {"x": "independent", "y": "independent"}}},
 {"width": 372, "height": 134, "title": "f) OBS-TROPICS",
  "layer": [
   {"data": {"name": "ens"}, "transform": [{"filter": "datum.p === 'f'"}], "mark": {"type": "area", "color": "#d3d3d3", "clip": true},
    "encoding": {"x": {"field": "year", "type": "quantitative", "scale": {"domain": [1980, 2013.196], "nice": false, "zero": false}, "axis": {"orient": "bottom", "values": [1980, 1990, 2000, 2010], "labels": true, "labelPadding": 6, "title": null}},
     "y": {"field": "lo", "type": "quantitative", "scale": {"domain": [-3.47, 3.47], "nice": false, "zero": false}, "axis": {"orient": "left", "values": [-2, 0, 2], "labels": false, "title": null}},
     "y2": {"field": "hi"}}},
   {"data": {"name": "obs"}, "mark": {"type": "line", "color": "#ff7f0e", "strokeWidth": 2, "clip": true},
    "encoding": {"x": {"field": "year", "type": "quantitative", "axis": {"orient": "top", "labels": false, "ticks": false, "grid": false, "title": null}}, "y": {"field": "v", "type": "quantitative", "axis": null}}},
   {"data": {"name": "ens"}, "transform": [{"filter": "datum.p === 'f'"}], "mark": {"type": "line", "color": "#1f77b4", "strokeWidth": 2, "clip": true},
    "encoding": {"x": {"field": "year", "type": "quantitative", "axis": null}, "y": {"field": "m", "type": "quantitative", "axis": null}}},
   {"data": {"name": "ann"}, "transform": [{"filter": "datum.p === 'f'"}], "mark": {"type": "text", "align": "right", "baseline": "alphabetic", "fontSize": 19.4, "color": "black"},
    "encoding": {"x": {"datum": 2011.68, "axis": null}, "y": {"datum": 2.26, "axis": null}, "text": {"field": "r"}}},
   {"data": {"name": "ann"}, "transform": [{"filter": "datum.p === 'f'"}], "mark": {"type": "text", "align": "left", "baseline": "alphabetic", "fontSize": 19.4, "fontStyle": "italic", "color": "black"},
    "encoding": {"x": {"datum": 1981.04, "axis": null}, "y": {"datum": -3.18, "axis": null}, "text": {"value": "std"}}},
   {"data": {"name": "ann"}, "transform": [{"filter": "datum.p === 'f'"}], "mark": {"type": "rule", "color": "black", "strokeWidth": 1.5},
    "encoding": {"x": {"datum": 1981.04, "axis": null}, "x2": {"datum": 1983.81}, "y": {"datum": -2.23, "axis": null}}},
   {"data": {"name": "ann"}, "transform": [{"filter": "datum.p === 'f'"}], "mark": {"type": "text", "align": "left", "baseline": "alphabetic", "fontSize": 19.4, "color": "black"},
    "encoding": {"x": {"datum": 1984.1, "axis": null}, "y": {"datum": -3.18, "axis": null}, "text": {"field": "s"}}},
   {"data": {"name": "ann"}, "transform": [{"filter": "datum.p === 'f'"}], "mark": {"type": "text", "align": "left", "baseline": "alphabetic", "fontSize": 19.4, "color": "black"},
    "encoding": {"x": {"datum": 2002.17, "axis": null}, "y": {"datum": -3.18, "axis": null}, "text": {"value": "⟨"}}},
   {"data": {"name": "ann"}, "transform": [{"filter": "datum.p === 'f'"}], "mark": {"type": "text", "align": "left", "baseline": "alphabetic", "fontSize": 19.4, "fontStyle": "italic", "color": "black"},
    "encoding": {"x": {"datum": 2002.91, "axis": null}, "y": {"datum": -3.18, "axis": null}, "text": {"value": "var"}}},
   {"data": {"name": "ann"}, "transform": [{"filter": "datum.p === 'f'"}], "mark": {"type": "text", "align": "left", "baseline": "alphabetic", "fontSize": 19.4, "color": "black"},
    "encoding": {"x": {"datum": 2005.74, "axis": null}, "y": {"datum": -3.18, "axis": null}, "text": {"field": "v"}}}
  ],
  "resolve": {"axis": {"x": "independent", "y": "independent"}}}
]
}
